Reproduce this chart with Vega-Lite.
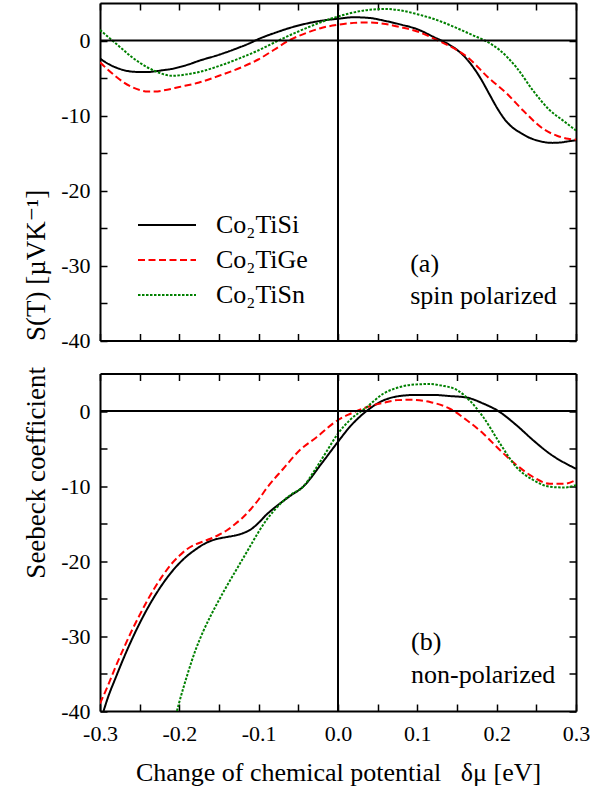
{
  "$schema": "https://vega.github.io/schema/vega-lite/v6.json",
  "padding": {"left": 21, "top": 2, "right": 5, "bottom": 5},
  "background": "white",
  "spacing": 14.5,
  "config": {
    "view": {"stroke": null},
    "font": "Liberation Serif, Times New Roman, Times, DejaVu Serif, serif",
    "axis": {
      "domainColor": "black", "domainWidth": 2, "tickColor": "black", "tickWidth": 1.5, "tickSize": -7,
      "grid": false, "labelFont": "Liberation Serif, Times New Roman, Times, DejaVu Serif, serif", "labelFontSize": 22, "labelColor": "black",
      "titleFont": "Liberation Serif, Times New Roman, Times, DejaVu Serif, serif", "titleFontSize": 27, "titleFontWeight": "normal", "titleColor": "black",
      "labelFlush": false, "labelOverlap": false, "labelBound": false
    }
  },
  "resolve": {"legend": {"color": "independent", "strokeDash": "independent"}},
  "datasets": {
    "top": [
      {"c":"Co₂TiSi","x":-0.3,"y":-2.4},{"c":"Co₂TiSi","x":-0.29,"y":-3.1},{"c":"Co₂TiSi","x":-0.28,"y":-3.6},{"c":"Co₂TiSi","x":-0.27,"y":-3.95},{"c":"Co₂TiSi","x":-0.26,"y":-4.15},{"c":"Co₂TiSi","x":-0.25,"y":-4.2},{"c":"Co₂TiSi","x":-0.24,"y":-4.2},{"c":"Co₂TiSi","x":-0.23,"y":-4.1},{"c":"Co₂TiSi","x":-0.22,"y":-3.95},{"c":"Co₂TiSi","x":-0.21,"y":-3.8},{"c":"Co₂TiSi","x":-0.2,"y":-3.55},{"c":"Co₂TiSi","x":-0.19,"y":-3.25},{"c":"Co₂TiSi","x":-0.175,"y":-2.7},{"c":"Co₂TiSi","x":-0.15,"y":-1.9},{"c":"Co₂TiSi","x":-0.13,"y":-1.15},{"c":"Co₂TiSi","x":-0.11,"y":-0.3},{"c":"Co₂TiSi","x":-0.1,"y":0.2},{"c":"Co₂TiSi","x":-0.08,"y":1.0},{"c":"Co₂TiSi","x":-0.06,"y":1.7},{"c":"Co₂TiSi","x":-0.04,"y":2.25},{"c":"Co₂TiSi","x":-0.02,"y":2.65},{"c":"Co₂TiSi","x":0,"y":2.9},{"c":"Co₂TiSi","x":0.02,"y":3.1},{"c":"Co₂TiSi","x":0.04,"y":3.0},{"c":"Co₂TiSi","x":0.06,"y":2.6},{"c":"Co₂TiSi","x":0.08,"y":2.1},{"c":"Co₂TiSi","x":0.1,"y":1.5},{"c":"Co₂TiSi","x":0.12,"y":0.5},{"c":"Co₂TiSi","x":0.14,"y":-0.55},{"c":"Co₂TiSi","x":0.15,"y":-1.25},{"c":"Co₂TiSi","x":0.16,"y":-2.2},{"c":"Co₂TiSi","x":0.17,"y":-3.5},{"c":"Co₂TiSi","x":0.18,"y":-5.1},{"c":"Co₂TiSi","x":0.19,"y":-7.0},{"c":"Co₂TiSi","x":0.2,"y":-8.9},{"c":"Co₂TiSi","x":0.21,"y":-10.5},{"c":"Co₂TiSi","x":0.22,"y":-11.6},{"c":"Co₂TiSi","x":0.23,"y":-12.3},{"c":"Co₂TiSi","x":0.24,"y":-12.9},{"c":"Co₂TiSi","x":0.25,"y":-13.3},{"c":"Co₂TiSi","x":0.26,"y":-13.55},{"c":"Co₂TiSi","x":0.27,"y":-13.65},{"c":"Co₂TiSi","x":0.28,"y":-13.6},{"c":"Co₂TiSi","x":0.29,"y":-13.45},{"c":"Co₂TiSi","x":0.3,"y":-13.3},
      {"c":"Co₂TiGe","x":-0.3,"y":-2.9},{"c":"Co₂TiGe","x":-0.29,"y":-3.9},{"c":"Co₂TiGe","x":-0.28,"y":-4.8},{"c":"Co₂TiGe","x":-0.27,"y":-5.6},{"c":"Co₂TiGe","x":-0.26,"y":-6.2},{"c":"Co₂TiGe","x":-0.25,"y":-6.6},{"c":"Co₂TiGe","x":-0.24,"y":-6.8},{"c":"Co₂TiGe","x":-0.23,"y":-6.8},{"c":"Co₂TiGe","x":-0.22,"y":-6.65},{"c":"Co₂TiGe","x":-0.2,"y":-6.2},{"c":"Co₂TiGe","x":-0.175,"y":-5.6},{"c":"Co₂TiGe","x":-0.15,"y":-4.7},{"c":"Co₂TiGe","x":-0.12,"y":-3.5},{"c":"Co₂TiGe","x":-0.1,"y":-2.5},{"c":"Co₂TiGe","x":-0.08,"y":-1.2},{"c":"Co₂TiGe","x":-0.06,"y":0.1},{"c":"Co₂TiGe","x":-0.04,"y":1.0},{"c":"Co₂TiGe","x":-0.02,"y":1.7},{"c":"Co₂TiGe","x":0,"y":2.1},{"c":"Co₂TiGe","x":0.02,"y":2.35},{"c":"Co₂TiGe","x":0.04,"y":2.4},{"c":"Co₂TiGe","x":0.06,"y":2.2},{"c":"Co₂TiGe","x":0.08,"y":1.75},{"c":"Co₂TiGe","x":0.1,"y":1.2},{"c":"Co₂TiGe","x":0.126,"y":0},{"c":"Co₂TiGe","x":0.14,"y":-0.7},{"c":"Co₂TiGe","x":0.163,"y":-2.2},{"c":"Co₂TiGe","x":0.189,"y":-4.9},{"c":"Co₂TiGe","x":0.213,"y":-7.1},{"c":"Co₂TiGe","x":0.233,"y":-9.3},{"c":"Co₂TiGe","x":0.259,"y":-11.8},{"c":"Co₂TiGe","x":0.276,"y":-12.7},{"c":"Co₂TiGe","x":0.29,"y":-13.1},{"c":"Co₂TiGe","x":0.3,"y":-13.2},
      {"c":"Co₂TiSn","x":-0.3,"y":1.4},{"c":"Co₂TiSn","x":-0.29,"y":0.5},{"c":"Co₂TiSn","x":-0.28,"y":-0.4},{"c":"Co₂TiSn","x":-0.27,"y":-1.3},{"c":"Co₂TiSn","x":-0.26,"y":-2.2},{"c":"Co₂TiSn","x":-0.25,"y":-2.95},{"c":"Co₂TiSn","x":-0.24,"y":-3.6},{"c":"Co₂TiSn","x":-0.23,"y":-4.1},{"c":"Co₂TiSn","x":-0.22,"y":-4.5},{"c":"Co₂TiSn","x":-0.21,"y":-4.7},{"c":"Co₂TiSn","x":-0.2,"y":-4.65},{"c":"Co₂TiSn","x":-0.19,"y":-4.5},{"c":"Co₂TiSn","x":-0.175,"y":-4.2},{"c":"Co₂TiSn","x":-0.15,"y":-3.4},{"c":"Co₂TiSn","x":-0.12,"y":-2.2},{"c":"Co₂TiSn","x":-0.1,"y":-1.3},{"c":"Co₂TiSn","x":-0.075,"y":0},{"c":"Co₂TiSn","x":-0.05,"y":1.2},{"c":"Co₂TiSn","x":-0.02,"y":2.5},{"c":"Co₂TiSn","x":0,"y":3.2},{"c":"Co₂TiSn","x":0.02,"y":3.75},{"c":"Co₂TiSn","x":0.04,"y":4.1},{"c":"Co₂TiSn","x":0.06,"y":4.2},{"c":"Co₂TiSn","x":0.08,"y":4.0},{"c":"Co₂TiSn","x":0.1,"y":3.5},{"c":"Co₂TiSn","x":0.12,"y":2.9},{"c":"Co₂TiSn","x":0.15,"y":1.65},{"c":"Co₂TiSn","x":0.17,"y":0.7},{"c":"Co₂TiSn","x":0.185,"y":0},{"c":"Co₂TiSn","x":0.204,"y":-1.3},{"c":"Co₂TiSn","x":0.225,"y":-3.6},{"c":"Co₂TiSn","x":0.246,"y":-6.7},{"c":"Co₂TiSn","x":0.267,"y":-9.3},{"c":"Co₂TiSn","x":0.284,"y":-10.7},{"c":"Co₂TiSn","x":0.3,"y":-12.0}
    ],
    "bottom": [
      {"c":"Co₂TiSi","x":-0.2955,"y":-40},{"c":"Co₂TiSi","x":-0.29,"y":-38.2},{"c":"Co₂TiSi","x":-0.28,"y":-35.5},{"c":"Co₂TiSi","x":-0.27,"y":-32.9},{"c":"Co₂TiSi","x":-0.26,"y":-30.5},{"c":"Co₂TiSi","x":-0.25,"y":-28.3},{"c":"Co₂TiSi","x":-0.24,"y":-26.3},{"c":"Co₂TiSi","x":-0.23,"y":-24.5},{"c":"Co₂TiSi","x":-0.22,"y":-22.9},{"c":"Co₂TiSi","x":-0.21,"y":-21.5},{"c":"Co₂TiSi","x":-0.2,"y":-20.3},{"c":"Co₂TiSi","x":-0.19,"y":-19.3},{"c":"Co₂TiSi","x":-0.18,"y":-18.5},{"c":"Co₂TiSi","x":-0.17,"y":-17.8},{"c":"Co₂TiSi","x":-0.16,"y":-17.3},{"c":"Co₂TiSi","x":-0.15,"y":-17.0},{"c":"Co₂TiSi","x":-0.14,"y":-16.8},{"c":"Co₂TiSi","x":-0.13,"y":-16.6},{"c":"Co₂TiSi","x":-0.12,"y":-16.3},{"c":"Co₂TiSi","x":-0.11,"y":-15.8},{"c":"Co₂TiSi","x":-0.1,"y":-14.9},{"c":"Co₂TiSi","x":-0.09,"y":-13.8},{"c":"Co₂TiSi","x":-0.08,"y":-12.9},{"c":"Co₂TiSi","x":-0.06,"y":-11.3},{"c":"Co₂TiSi","x":-0.044,"y":-10.1},{"c":"Co₂TiSi","x":-0.02,"y":-6.9},{"c":"Co₂TiSi","x":0,"y":-4.1},{"c":"Co₂TiSi","x":0.015,"y":-2.1},{"c":"Co₂TiSi","x":0.036,"y":0},{"c":"Co₂TiSi","x":0.057,"y":1.4},{"c":"Co₂TiSi","x":0.078,"y":2.0},{"c":"Co₂TiSi","x":0.1,"y":2.15},{"c":"Co₂TiSi","x":0.12,"y":2.15},{"c":"Co₂TiSi","x":0.14,"y":2.0},{"c":"Co₂TiSi","x":0.162,"y":1.8},{"c":"Co₂TiSi","x":0.183,"y":1.0},{"c":"Co₂TiSi","x":0.202,"y":0},{"c":"Co₂TiSi","x":0.225,"y":-1.9},{"c":"Co₂TiSi","x":0.246,"y":-3.9},{"c":"Co₂TiSi","x":0.267,"y":-5.7},{"c":"Co₂TiSi","x":0.3,"y":-7.7},
      {"c":"Co₂TiGe","x":-0.3,"y":-39},{"c":"Co₂TiGe","x":-0.29,"y":-36.6},{"c":"Co₂TiGe","x":-0.28,"y":-34.0},{"c":"Co₂TiGe","x":-0.27,"y":-31.6},{"c":"Co₂TiGe","x":-0.26,"y":-29.3},{"c":"Co₂TiGe","x":-0.25,"y":-27.2},{"c":"Co₂TiGe","x":-0.24,"y":-25.2},{"c":"Co₂TiGe","x":-0.23,"y":-23.4},{"c":"Co₂TiGe","x":-0.22,"y":-21.8},{"c":"Co₂TiGe","x":-0.21,"y":-20.4},{"c":"Co₂TiGe","x":-0.2,"y":-19.3},{"c":"Co₂TiGe","x":-0.19,"y":-18.4},{"c":"Co₂TiGe","x":-0.18,"y":-17.8},{"c":"Co₂TiGe","x":-0.17,"y":-17.4},{"c":"Co₂TiGe","x":-0.16,"y":-17.0},{"c":"Co₂TiGe","x":-0.15,"y":-16.5},{"c":"Co₂TiGe","x":-0.14,"y":-15.9},{"c":"Co₂TiGe","x":-0.13,"y":-15.1},{"c":"Co₂TiGe","x":-0.12,"y":-14.2},{"c":"Co₂TiGe","x":-0.11,"y":-13.1},{"c":"Co₂TiGe","x":-0.1,"y":-11.8},{"c":"Co₂TiGe","x":-0.09,"y":-10.3},{"c":"Co₂TiGe","x":-0.069,"y":-7.7},{"c":"Co₂TiGe","x":-0.048,"y":-5.2},{"c":"Co₂TiGe","x":-0.027,"y":-3.5},{"c":"Co₂TiGe","x":0,"y":-1.2},{"c":"Co₂TiGe","x":0.015,"y":-0.4},{"c":"Co₂TiGe","x":0.036,"y":0.5},{"c":"Co₂TiGe","x":0.057,"y":1.1},{"c":"Co₂TiGe","x":0.075,"y":1.45},{"c":"Co₂TiGe","x":0.091,"y":1.5},{"c":"Co₂TiGe","x":0.116,"y":1.2},{"c":"Co₂TiGe","x":0.141,"y":0.3},{"c":"Co₂TiGe","x":0.162,"y":-1.2},{"c":"Co₂TiGe","x":0.183,"y":-3.0},{"c":"Co₂TiGe","x":0.204,"y":-5.2},{"c":"Co₂TiGe","x":0.225,"y":-7.2},{"c":"Co₂TiGe","x":0.246,"y":-8.8},{"c":"Co₂TiGe","x":0.267,"y":-9.7},{"c":"Co₂TiGe","x":0.285,"y":-9.7},{"c":"Co₂TiGe","x":0.3,"y":-9.2},
      {"c":"Co₂TiSn","x":-0.203,"y":-40},{"c":"Co₂TiSn","x":-0.2,"y":-38.8},{"c":"Co₂TiSn","x":-0.19,"y":-35.2},{"c":"Co₂TiSn","x":-0.18,"y":-32.0},{"c":"Co₂TiSn","x":-0.17,"y":-29.4},{"c":"Co₂TiSn","x":-0.16,"y":-27.2},{"c":"Co₂TiSn","x":-0.15,"y":-25.2},{"c":"Co₂TiSn","x":-0.14,"y":-23.3},{"c":"Co₂TiSn","x":-0.13,"y":-21.5},{"c":"Co₂TiSn","x":-0.12,"y":-19.7},{"c":"Co₂TiSn","x":-0.11,"y":-17.9},{"c":"Co₂TiSn","x":-0.1,"y":-16.1},{"c":"Co₂TiSn","x":-0.09,"y":-14.5},{"c":"Co₂TiSn","x":-0.08,"y":-13.2},{"c":"Co₂TiSn","x":-0.07,"y":-12.1},{"c":"Co₂TiSn","x":-0.06,"y":-11.2},{"c":"Co₂TiSn","x":-0.044,"y":-10.1},{"c":"Co₂TiSn","x":-0.03,"y":-8.0},{"c":"Co₂TiSn","x":-0.015,"y":-5.5},{"c":"Co₂TiSn","x":0,"y":-3.0},{"c":"Co₂TiSn","x":0.015,"y":-1.2},{"c":"Co₂TiSn","x":0.036,"y":0.5},{"c":"Co₂TiSn","x":0.057,"y":2.3},{"c":"Co₂TiSn","x":0.078,"y":3.2},{"c":"Co₂TiSn","x":0.1,"y":3.55},{"c":"Co₂TiSn","x":0.116,"y":3.6},{"c":"Co₂TiSn","x":0.13,"y":3.4},{"c":"Co₂TiSn","x":0.15,"y":2.8},{"c":"Co₂TiSn","x":0.166,"y":1.4},{"c":"Co₂TiSn","x":0.183,"y":-0.8},{"c":"Co₂TiSn","x":0.204,"y":-4.3},{"c":"Co₂TiSn","x":0.225,"y":-7.5},{"c":"Co₂TiSn","x":0.246,"y":-9.2},{"c":"Co₂TiSn","x":0.267,"y":-10.1},{"c":"Co₂TiSn","x":0.285,"y":-10.2},{"c":"Co₂TiSn","x":0.3,"y":-9.9}
    ]
  },
  "vconcat": [
    {
      "width": 476, "height": 337.5,
      "resolve": {"axis": {"x": "independent", "y": "independent"}},
      "layer": [
        {
          "data": {"name": "top"},
          "mark": {"type": "line", "strokeWidth": 2, "interpolate": "monotone", "clip": true},
          "encoding": {
            "x": {"field": "x", "type": "quantitative", "scale": {"domain": [-0.3, 0.3], "nice": false, "zero": false},
              "axis": {"orient": "bottom", "values": [-0.3,-0.25,-0.2,-0.15,-0.1,-0.05,0,0.05,0.1,0.15,0.2,0.25,0.3], "labels": false, "title": null}},
            "y": {"field": "y", "type": "quantitative", "scale": {"domain": [-40, 5], "nice": false, "zero": false},
              "axis": {"orient": "left", "values": [-40,-35,-30,-25,-20,-15,-10,-5,0], "labelPadding": 17,
                "labelExpr": "datum.value % 10 == 0 ? (datum.value < 0 ? '-' + abs(datum.value) : '' + datum.value) : ''",
                "title": "S(T) [µVK⁻¹]", "titleX": -56, "titleY": 337.5, "titleAngle": -90, "titleAlign": "left", "titleBaseline": "alphabetic"}},
            "color": {"field": "c", "type": "nominal", "scale": {"domain": ["Co₂TiSi","Co₂TiGe","Co₂TiSn"], "range": ["#000000","#ff0000","#008000"]},
              "legend": {"orient": "none", "legendX": 37, "legendY": 204.5, "title": null, "symbolType": "stroke", "symbolSize": 3364, "symbolStrokeWidth": 2, "labelFont": "Liberation Serif, Times New Roman, Times, DejaVu Serif, serif", "labelFontSize": 26, "labelColor": "black", "labelOffset": 19, "clipHeight": 35, "rowPadding": 0, "padding": 0}},
            "strokeDash": {"field": "c", "type": "nominal", "scale": {"domain": ["Co₂TiSi","Co₂TiGe","Co₂TiSn"], "range": [[1,0],[7,3.5],[2.5,1.5]]},
              "legend": {"orient": "none", "legendX": 37, "legendY": 204.5, "title": null, "symbolType": "stroke", "symbolSize": 3364, "symbolStrokeWidth": 2, "labelFont": "Liberation Serif, Times New Roman, Times, DejaVu Serif, serif", "labelFontSize": 26, "labelColor": "black", "labelOffset": 19, "clipHeight": 35, "rowPadding": 0, "padding": 0}}
          }
        },
        {
          "data": {"values": [{"v": 0}]},
          "mark": {"type": "rule", "strokeWidth": 2, "color": "black"},
          "encoding": {
            "y": {"field": "v", "type": "quantitative", "scale": {"domain": [-40, 5], "nice": false, "zero": false},
              "axis": {"orient": "right", "values": [-40,-35,-30,-25,-20,-15,-10,-5,0], "labels": false, "title": null}}
          }
        },
        {
          "data": {"values": [{"v": 0}]},
          "mark": {"type": "rule", "strokeWidth": 2, "color": "black"},
          "encoding": {
            "x": {"field": "v", "type": "quantitative", "scale": {"domain": [-0.3, 0.3], "nice": false, "zero": false},
              "axis": {"orient": "top", "values": [-0.3,-0.25,-0.2,-0.15,-0.1,-0.05,0,0.05,0.1,0.15,0.2,0.25,0.3], "labels": false, "title": null}}
          }
        },
        {
          "data": {"values": [{"x": 0.091, "y": -30.9, "t": "(a)"}, {"x": 0.091, "y": -35.1, "t": "spin polarized"}]},
          "mark": {"type": "text", "align": "left", "baseline": "alphabetic", "font": "Liberation Serif, Times New Roman, Times, DejaVu Serif, serif", "fontSize": 26, "color": "black"},
          "encoding": {
            "x": {"field": "x", "type": "quantitative", "scale": {"domain": [-0.3, 0.3], "nice": false, "zero": false}, "axis": null},
            "y": {"field": "y", "type": "quantitative", "scale": {"domain": [-40, 5], "nice": false, "zero": false}, "axis": null},
            "text": {"field": "t"}
          }
        }
      ]
    },
    {
      "width": 476, "height": 337.5,
      "resolve": {"axis": {"x": "independent", "y": "independent"}},
      "layer": [
        {
          "data": {"name": "bottom"},
          "mark": {"type": "line", "strokeWidth": 2, "interpolate": "monotone", "clip": true},
          "encoding": {
            "x": {"field": "x", "type": "quantitative", "scale": {"domain": [-0.3, 0.3], "nice": false, "zero": false},
              "axis": {"orient": "bottom", "values": [-0.3,-0.25,-0.2,-0.15,-0.1,-0.05,0,0.05,0.1,0.15,0.2,0.25,0.3], "labelPadding": 36, "labelBaseline": "alphabetic",
                "labelExpr": "abs(round(datum.value*100)) % 10 == 0 ? (datum.value < -0.001 ? '-' : '') + format(abs(datum.value), '.1f') : ''",
                "title": "Change of chemical potential\u00a0\u00a0\u00a0δμ [eV]", "titleFontSize": 26, "titleX": 238, "titleY": 69, "titleAlign": "center", "titleBaseline": "alphabetic"}},
            "y": {"field": "y", "type": "quantitative", "scale": {"domain": [-40, 5], "nice": false, "zero": false},
              "axis": {"orient": "left", "values": [-40,-35,-30,-25,-20,-15,-10,-5,0], "labelPadding": 17,
                "labelExpr": "datum.value % 10 == 0 ? (datum.value < 0 ? '-' + abs(datum.value) : '' + datum.value) : ''",
                "title": "Seebeck coefficient", "titleX": -56, "titleY": -7, "titleAngle": -90, "titleAlign": "right", "titleBaseline": "alphabetic"}},
            "color": {"field": "c", "type": "nominal", "scale": {"domain": ["Co₂TiSi","Co₂TiGe","Co₂TiSn"], "range": ["#000000","#ff0000","#008000"]}, "legend": null},
            "strokeDash": {"field": "c", "type": "nominal", "scale": {"domain": ["Co₂TiSi","Co₂TiGe","Co₂TiSn"], "range": [[1,0],[7,3.5],[2.5,1.5]]}, "legend": null}
          }
        },
        {
          "data": {"values": [{"v": 0}]},
          "mark": {"type": "rule", "strokeWidth": 2, "color": "black"},
          "encoding": {
            "y": {"field": "v", "type": "quantitative", "scale": {"domain": [-40, 5], "nice": false, "zero": false},
              "axis": {"orient": "right", "values": [-40,-35,-30,-25,-20,-15,-10,-5,0], "labels": false, "title": null}}
          }
        },
        {
          "data": {"values": [{"v": 0}]},
          "mark": {"type": "rule", "strokeWidth": 2, "color": "black"},
          "encoding": {
            "x": {"field": "v", "type": "quantitative", "scale": {"domain": [-0.3, 0.3], "nice": false, "zero": false},
              "axis": {"orient": "top", "values": [-0.3,-0.25,-0.2,-0.15,-0.1,-0.05,0,0.05,0.1,0.15,0.2,0.25,0.3], "labels": false, "title": null}}
          }
        },
        {
          "data": {"values": [{"x": 0.092, "y": -31.8, "t": "(b)"}, {"x": 0.092, "y": -36.2, "t": "non-polarized"}]},
          "mark": {"type": "text", "align": "left", "baseline": "alphabetic", "font": "Liberation Serif, Times New Roman, Times, DejaVu Serif, serif", "fontSize": 26, "color": "black"},
          "encoding": {
            "x": {"field": "x", "type": "quantitative", "scale": {"domain": [-0.3, 0.3], "nice": false, "zero": false}, "axis": null},
            "y": {"field": "y", "type": "quantitative", "scale": {"domain": [-40, 5], "nice": false, "zero": false}, "axis": null},
            "text": {"field": "t"}
          }
        }
      ]
    }
  ]
}
